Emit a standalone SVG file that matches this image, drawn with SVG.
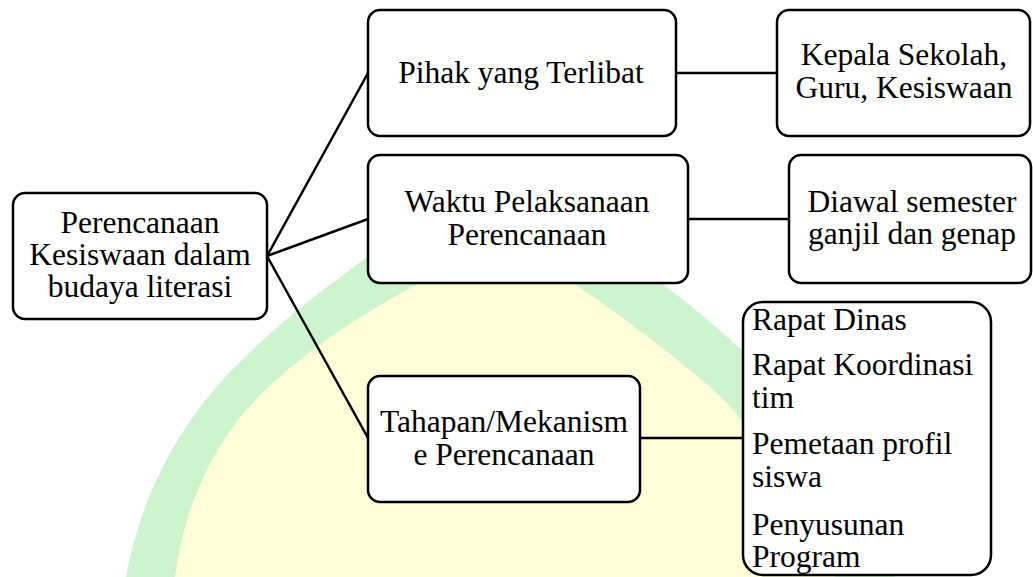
<svg xmlns="http://www.w3.org/2000/svg" width="1033" height="577" viewBox="0 0 1033 577">
<style>
.box{fill:#fff;stroke:#000;stroke-width:2.5}
.t{font-family:"Liberation Serif","Times New Roman",serif;font-size:31.5px;fill:#000}
.c{text-anchor:middle}
.ln{stroke:#000;stroke-width:2.5;fill:none}
</style>
<rect width="1033" height="577" fill="#fff"/>
<g id="watermark">
<path d="M126,577 C140,500 175,430 230,372 C280,320 330,285 367,257 L525,165 L660,282 C700,312 725,335 740,348 C810,410 870,490 895,577 Z" fill="#cdf3cf"/>
<path d="M175,577 C183,520 200,470 240,417 C280,370 340,325 420,283 L495,235 L572,283 C600,300 640,330 690,370 C720,395 735,410 745,425 C790,480 820,530 835,577 Z" fill="#fffed8"/>
</g>
<g id="connectors">
<line class="ln" x1="267" y1="256" x2="368" y2="73"/>
<line class="ln" x1="267" y1="256" x2="368" y2="219"/>
<line class="ln" x1="267" y1="256" x2="368" y2="438"/>
<line class="ln" x1="676" y1="73" x2="777" y2="73"/>
<line class="ln" x1="688" y1="219" x2="789" y2="219"/>
<line class="ln" x1="640" y1="438" x2="743" y2="438"/>
</g>
<g id="root">
<rect class="box" x="13" y="193" width="254" height="126" rx="12"/>
<text class="t c" x="140" y="233">Perencanaan</text>
<text class="t c" x="140" y="265">Kesiswaan dalam</text>
<text class="t c" x="140" y="297">budaya literasi</text>
</g>
<g id="pihak">
<rect class="box" x="368" y="10" width="308" height="126" rx="12"/>
<text class="t c" x="521" y="83">Pihak yang Terlibat</text>
</g>
<g id="kepala">
<rect class="box" x="777" y="10" width="253" height="126" rx="12"/>
<text class="t c" x="904" y="65">Kepala Sekolah,</text>
<text class="t c" x="904" y="98">Guru, Kesiswaan</text>
</g>
<g id="waktu">
<rect class="box" x="368" y="155" width="320" height="128" rx="12"/>
<text class="t c" x="527" y="212">Waktu Pelaksanaan</text>
<text class="t c" x="527" y="245">Perencanaan</text>
</g>
<g id="diawal">
<rect class="box" x="789" y="155" width="242" height="128" rx="12"/>
<text class="t c" x="912" y="212">Diawal semester</text>
<text class="t c" x="912" y="244">ganjil dan genap</text>
</g>
<g id="tahapan">
<rect class="box" x="368" y="376" width="272" height="126" rx="12"/>
<text class="t c" x="504" y="432">Tahapan/Mekanism</text>
<text class="t c" x="504" y="465">e Perencanaan</text>
</g>
<g id="list">
<rect class="box" x="743" y="302" width="248" height="273" rx="20"/>
<text class="t" x="752" y="330">Rapat Dinas</text>
<text class="t" x="752" y="375">Rapat Koordinasi</text>
<text class="t" x="752" y="408">tim</text>
<text class="t" x="752" y="454">Pemetaan profil</text>
<text class="t" x="752" y="487">siswa</text>
<text class="t" x="752" y="535">Penyusunan</text>
<text class="t" x="752" y="567">Program</text>
</g>
</svg>
